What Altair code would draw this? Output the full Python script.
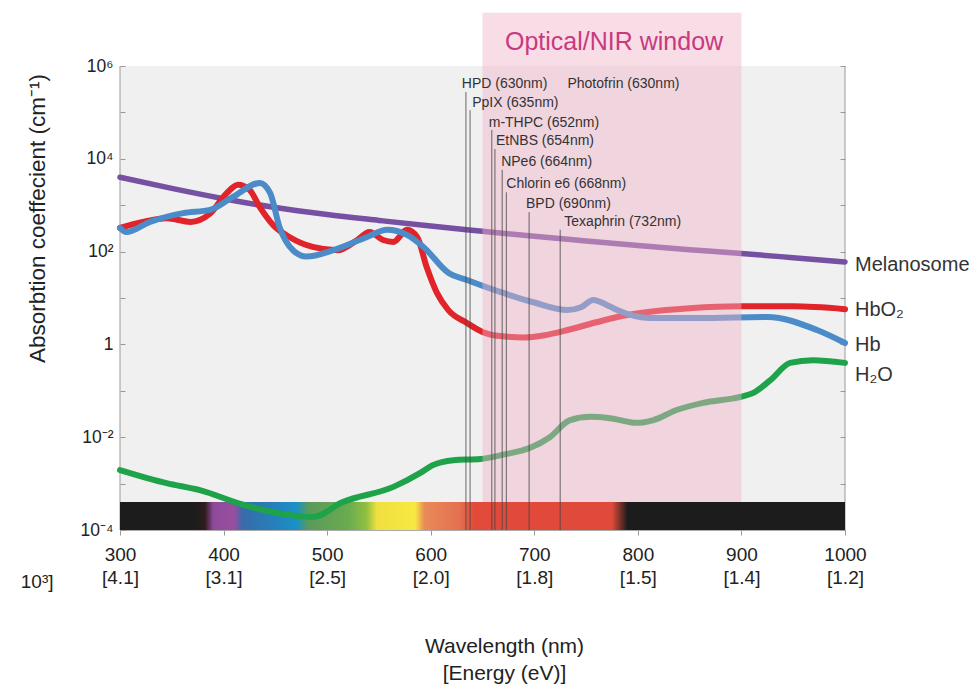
import altair as alt
import pandas as pd

# ---------------- data ----------------
mel_nm = [300, 350, 400, 450, 500, 550, 600, 650, 700, 750, 800, 850, 900, 950, 1000]
mel_val = [4000, 2300, 1380, 890, 630, 470, 355, 275, 214, 170, 135, 110, 91, 74, 60]

hbo2_nm = [300, 322, 345, 368, 387, 403, 414, 425, 435, 448, 464, 486, 510, 529, 541, 554,
           564, 577, 587, 596, 606, 617, 635, 650, 667, 690, 710, 732, 760, 780, 810, 850,
           900, 950, 1000]
hbo2_val = [324, 437, 525, 437, 661, 1820, 2750, 2140, 912, 372, 204, 126, 107, 178, 263, 178,
            162, 295, 204, 47, 12.9, 5.5, 2.9, 1.86, 1.51, 1.41, 1.58, 2.04, 3.0, 3.9, 5.0, 6.0,
            6.6, 6.6, 5.75]

hb_nm = [300, 306, 329, 361, 387, 409, 435, 445, 454, 467, 480, 506, 538, 558, 577, 593, 617,
         635, 667, 699, 732, 745, 757, 770, 780, 812, 860, 925, 973, 1000]
hb_val = [324, 263, 437, 676, 794, 1510, 3020, 1820, 339, 107, 78, 107, 204, 295, 229, 126, 35,
          24.5, 13.5, 8.1, 5.5, 6.3, 9.1, 7.1, 5.5, 3.7, 3.7, 3.9, 2.04, 1.07]

h2o_nm = [300, 345, 377, 419, 451, 486, 515, 564, 590, 602, 622, 648, 670, 696, 715, 734, 754,
          773, 799, 815, 838, 863, 899, 911, 928, 947, 969, 1000]
h2o_val = [0.00195, 0.00102, 0.00072, 0.00035, 0.000234, 0.00019, 0.0004, 0.00085, 0.0017,
           0.0025, 0.0032, 0.0034, 0.0042, 0.0059, 0.010, 0.023, 0.0275, 0.0257, 0.0204, 0.0234,
           0.039, 0.055, 0.074, 0.089, 0.17, 0.40, 0.457, 0.40]

series_names = ["Melanosome", "HbO\u2082", "Hb", "H\u2082O"]
series_label_y = [51, 5.5, 0.98, 0.22]

drug_line_nm = [634, 638, 659, 662, 669, 673, 695, 725]
drug_line_top = [275000, 112000, 41700, 16200, 5750, 1900, 708, 295]

drug_labels = ["HPD (630nm)", "Photofrin (630nm)", "PpIX (635nm)", "m-THPC (652nm)",
               "EtNBS (654nm)", "NPe6 (664nm)", "Chlorin e6 (668nm)", "BPD (690nm)",
               "Texaphrin (732nm)"]
drug_label_nm = [630, 732, 640, 656, 663, 668, 673, 692, 729]
drug_label_y = [407000, 407000, 158000, 58900, 24000, 8510, 2880, 1070, 437]

window_nm = [650, 900]
window_y = [4e-4, 1.4e7]
window_label = "Optical/NIR window"
window_label_pos = [777, 3.3e6]

spectrum_band_nm = [300, 1000]
spectrum_band_y = [1e-4, 4e-4]
spectrum_nm = [300, 372, 382, 390, 410, 418, 440, 470, 482, 520, 538, 548, 585, 594, 628, 642,
               775, 790, 1000]
spectrum_colors = ["#1c1c1c", "#1c1c1c", "#2e1c1c", "#8e4a9a", "#9a4ea0", "#3a6aaa", "#2a7ab5",
                   "#1a90c8", "#5a9a5a", "#6aaa50", "#90c040", "#f0e040", "#f8e840", "#e98a58",
                   "#e47050", "#e24a3a", "#e04a3a", "#1c1c1c", "#1c1c1c"]

x_ticks = [300, 400, 500, 600, 700, 800, 900, 1000]
x_energy = ["[4.1]", "[3.1]", "[2.5]", "[2.0]", "[1.8]", "[1.5]", "[1.4]", "[1.2]"]

y_decades = [1e-4, 1e-3, 1e-2, 1e-1, 1, 1e1, 1e2, 1e3, 1e4, 1e5, 1e6]
y_label_exp = [-4, -2, 0, 2, 4, 6]
y_label_txt = ["10\u207b\u2074", "10\u207b\u00b2", "1", "10\u00b2", "10\u2074", "10\u2076"]

stray_text = ["10\u00b3]"]
stray_pos = [220, 7.6e-6]

# ---------------- scales / axes ----------------
FONT = "Liberation Sans"
NARROW = "Liberation Sans Narrow, Liberation Sans"

xscale = alt.Scale(domain=[300, 1000], nice=False, zero=False)
yscale = alt.Scale(type="log", domain=[1e-4, 1e6], nice=False)

energy_expr = "''"
for v, e in zip(x_ticks, x_energy):
    energy_expr = f"datum.value == {v} ? '{e}' : ({energy_expr})"

x_axis = alt.Axis(
    values=x_ticks, format="d", grid=False, labelFlush=False,
    labelExpr=f"[datum.label, {energy_expr}]",
    labelFont=NARROW, labelFontSize=19, labelColor="#222", labelLineHeight=23,
    labelPadding=10, tickSize=5, tickColor="#999", domainColor="#aaa",
    title=["Wavelength (nm)", "[Energy (eV)]"], titleFont=NARROW, titleFontSize=21,
    titleFontWeight="normal", titleColor="#222", titleLineHeight=27,
    titlePadding=48, titleX=384, titleAnchor="start", titleAlign="center",
)

ylab_expr = "''"
for e, s in zip(y_label_exp, y_label_txt):
    ylab_expr = f"round(log(datum.value)/LN10) == {e} ? '{s}' : ({ylab_expr})"

y_axis_left = alt.Axis(
    values=y_decades, labelExpr=ylab_expr, grid=False, domain=False, offset=-5,
    tickSize=5, tickColor="#999", labelFont=FONT, labelFontSize=17.5, labelColor="#222",
    labelPadding=7,
    title="Absorbtion coeffecient (cm\u207b\u00b9)", titleFont=FONT, titleFontSize=22.5,
    titleFontWeight="normal", titleColor="#222", titleAngle=270,
    titleX=-88, titleY=152, titleAlign="center", titleBaseline="middle",
)
y_axis_right = alt.Axis(
    values=y_decades, orient="right", labels=False, grid=False, domain=False, offset=-5,
    tickSize=5, tickColor="#999", title=None,
)


def X(f="nm"):
    return alt.X(f"{f}:Q", scale=xscale, axis=x_axis)


def Y(f="value", axis=None):
    return alt.Y(f"{f}:Q", scale=yscale, axis=axis)


# ---------------- layers ----------------
frame_df = pd.DataFrame({"nm": [300, 1000], "lo": [1e-4, 1e-4], "hi": [1e6, 1e6]})
frame_left = alt.Chart(frame_df.iloc[[0]]).mark_rule(color="#9a9a9a", strokeWidth=1).encode(
    x=X(), y=Y("lo", y_axis_left), y2="hi:Q")
frame_right = alt.Chart(frame_df.iloc[[1]]).mark_rule(color="#9a9a9a", strokeWidth=1).encode(
    x=X(), y=Y("lo", y_axis_right), y2="hi:Q")

stops = [alt.GradientStop(color=c, offset=(n - 300) / 700.0)
         for n, c in zip(spectrum_nm, spectrum_colors)]
bar_df = pd.DataFrame({"nm": [spectrum_band_nm[0]], "nm2": [spectrum_band_nm[1]],
                       "value": [spectrum_band_y[0]], "value2": [spectrum_band_y[1]]})
bar = alt.Chart(bar_df).mark_rect(
    color=alt.Gradient(gradient="linear", stops=stops, x1=0, x2=1, y1=0, y2=0)
).encode(x=X(), x2="nm2:Q", y=Y(), y2="value2:Q")


def curve(nm, val, color, width):
    df = pd.DataFrame({"nm": nm, "value": val})
    return alt.Chart(df).mark_line(color=color, strokeWidth=width, interpolate="monotone",
                                   strokeCap="round").encode(x=X(), y=Y())


mel = curve(mel_nm, mel_val, "#7650a2", 5.5)
hbo2 = curve(hbo2_nm, hbo2_val, "#e1232a", 6)
hb = curve(hb_nm, hb_val, "#4a8bc8", 6)
h2o = curve(h2o_nm, h2o_val, "#1ea34a", 6)

win_df = pd.DataFrame({"nm": [window_nm[0]], "nm2": [window_nm[1]],
                       "value": [window_y[0]], "value2": [window_y[1]]})
window = alt.Chart(win_df).mark_rect(color="#efb1c7", opacity=0.45).encode(
    x=X(), x2="nm2:Q", y=Y(), y2="value2:Q")

lines_df = pd.DataFrame({"nm": drug_line_nm, "value": [1e-4] * len(drug_line_nm),
                         "value2": drug_line_top})
drug_lines = alt.Chart(lines_df).mark_rule(color="#444", strokeWidth=0.8).encode(
    x=X(), y=Y(), y2="value2:Q")

dl_df = pd.DataFrame({"nm": drug_label_nm, "value": drug_label_y, "label": drug_labels})
drug_text = alt.Chart(dl_df).mark_text(
    align="left", baseline="middle", font=FONT, fontSize=14, color="#333"
).encode(x=X(), y=Y(), text="label:N")

wl_df = pd.DataFrame({"nm": [window_label_pos[0]], "value": [window_label_pos[1]],
                      "label": [window_label]})
window_text = alt.Chart(wl_df).mark_text(
    align="center", baseline="middle", font=FONT, fontSize=25, color="#c8397f"
).encode(x=X(), y=Y(), text="label:N")

sl_df = pd.DataFrame({"nm": [1000] * 4, "value": series_label_y, "label": series_names})
series_text = alt.Chart(sl_df).mark_text(
    align="left", baseline="middle", dx=10, font=FONT, fontSize=20, color="#333"
).encode(x=X(), y=Y(), text="label:N")

st_df = pd.DataFrame({"nm": [stray_pos[0]], "value": [stray_pos[1]], "label": stray_text})
stray = alt.Chart(st_df).mark_text(
    align="center", baseline="middle", font=NARROW, fontSize=19, color="#222"
).encode(x=X(), y=Y(), text="label:N")

chart = alt.layer(
    frame_left, frame_right, bar, mel, hbo2, hb, h2o, window, drug_lines, drug_text,
    window_text, series_text, stray
).resolve_axis(y="independent").properties(
    width=725, height=464,
    padding={"left": 120, "top": 66, "right": 134, "bottom": 161},
    autosize=alt.AutoSizeParams(type="none"),
    background="white",
).configure_view(fill="#f0f0f0", stroke=None)

chart.save("out.html", embed_options={"renderer": "svg", "actions": False})
